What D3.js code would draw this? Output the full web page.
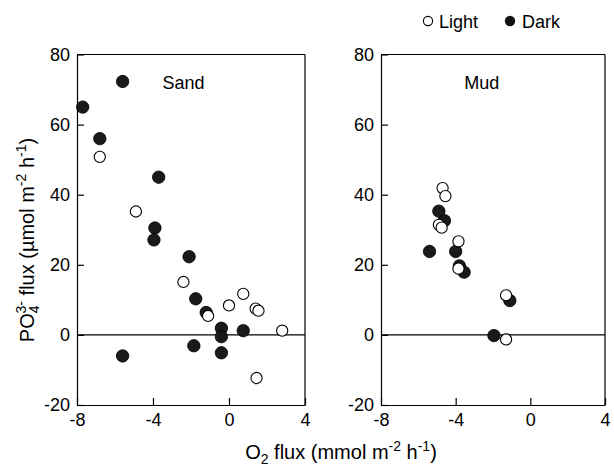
<!DOCTYPE html>
<html>
<head>
<meta charset="utf-8">
<script src="https://cdn.jsdelivr.net/npm/d3@7"></script>
<style>
  html, body { margin: 0; padding: 0; background: #fff; }
  svg { display: block; font-family: Arial, "Liberation Sans", sans-serif; }
</style>
</head>
<body>
<svg id="chart" width="614" height="467"></svg>
<script>
// ---- Data ----
const panels = ["Sand", "Mud"];
const xTicks = [-8, -4, 0, 4];
const yTicks = [-20, 0, 20, 40, 60, 80];

// Sand panel
const sandLightX = [-6.8, -4.9, -2.4, -1.1, 0.0, 0.75, 1.4, 1.55, 2.8, 1.45];
const sandLightY = [50.8, 35.2, 15.1, 5.4, 8.4, 11.7, 7.5, 6.9, 1.2, -12.3];
const sandDarkX = [-5.6, -7.7, -6.8, -3.7, -3.9, -3.95, -2.1, -1.75, -1.2, 0.75, -0.4, -0.4, -0.4, -1.85, -5.6];
const sandDarkY = [72.3, 65.0, 56.0, 45.0, 30.5, 27.1, 22.3, 10.3, 6.4, 1.2, 1.9, -0.5, -5.1, -3.1, -6.0];

// Mud panel
const mudLightX = [-4.7, -4.55, -4.9, -4.75, -3.85, -3.85, -1.3, -1.3];
const mudLightY = [41.9, 39.6, 31.4, 30.6, 26.7, 18.9, 11.3, -1.3];
const mudDarkX = [-4.9, -4.6, -5.4, -4.0, -3.8, -3.55, -1.1, -1.95];
const mudDarkY = [35.3, 32.6, 23.8, 23.8, 19.7, 17.9, 9.8, -0.2];

const seriesNames = ["Light", "Dark"];

// ---- Layout ----
const svg = d3.select("#chart");
const plotTop = 54.5, plotBottom = 405;
const panelX = [[77, 305], [381, 605]];
const y = d3.scaleLinear().domain([-20, 80]).range([plotBottom, plotTop]);
const fontSize = 18;
const titleSize = 20;
const supSize = 14;

const panelData = [
  { name: panels[0], light: sandLightX.map((v, i) => [v, sandLightY[i]]), dark: sandDarkX.map((v, i) => [v, sandDarkY[i]]) },
  { name: panels[1], light: mudLightX.map((v, i) => [v, mudLightY[i]]), dark: mudDarkX.map((v, i) => [v, mudDarkY[i]]) }
];

panelData.forEach((p, k) => {
  const x = d3.scaleLinear().domain([-8, 4]).range(panelX[k]);
  const g = svg.append("g");

  // zero line
  g.append("line")
    .attr("x1", x(-8)).attr("x2", x(4))
    .attr("y1", y(0)).attr("y2", y(0))
    .attr("stroke", "#000").attr("stroke-width", 1.2);

  // left axis
  const ya = g.append("g").attr("transform", `translate(${x(-8)},0)`)
    .call(d3.axisLeft(y).tickValues(yTicks).tickSizeInner(-7).tickSizeOuter(0).tickPadding(7));
  // bottom axis
  const xa = g.append("g").attr("transform", `translate(0,${y(-20)})`)
    .call(d3.axisBottom(x).tickValues(xTicks).tickSizeInner(-7).tickSizeOuter(0).tickPadding(8));
  [ya, xa].forEach(a => {
    a.select(".domain").attr("stroke", "#000").attr("stroke-width", 1.2);
    a.selectAll(".tick line").attr("stroke", "#000").attr("stroke-width", 1.2);
    a.selectAll("text").attr("font-size", fontSize).attr("fill", "#000")
      .attr("font-family", "Arial, 'Liberation Sans', sans-serif")
      .text(d => d < 0 ? "-" + Math.abs(d) : d);
  });

  // frame top & right
  g.append("line").attr("x1", x(-8)).attr("x2", x(4)).attr("y1", y(80)).attr("y2", y(80))
    .attr("stroke", "#000").attr("stroke-width", 1.2);
  g.append("line").attr("x1", x(4)).attr("x2", x(4)).attr("y1", y(80)).attr("y2", y(-20))
    .attr("stroke", "#000").attr("stroke-width", 1.2);

  // panel label
  g.append("text").attr("x", k === 0 ? x(-2.4) : x(-2.6)).attr("y", y(72) + 6.5)
    .attr("text-anchor", "middle").attr("font-size", fontSize).text(p.name);

  // points
  g.selectAll(".dark").data(p.dark).join("circle")
    .attr("cx", d => x(d[0])).attr("cy", d => y(d[1])).attr("r", 6.2)
    .attr("fill", "#1a1a1a").attr("stroke", "#000").attr("stroke-width", 0.8);
  g.selectAll(".light").data(p.light).join("circle")
    .attr("cx", d => x(d[0])).attr("cy", d => y(d[1])).attr("r", 5.6)
    .attr("fill", "#fff").attr("stroke", "#000").attr("stroke-width", 1.1);
});

// ---- Legend ----
const lg = svg.append("g");
lg.append("circle").attr("cx", 428).attr("cy", 21).attr("r", 4.6)
  .attr("fill", "#fff").attr("stroke", "#000").attr("stroke-width", 1.1);
lg.append("text").attr("x", 439).attr("y", 27.5).attr("font-size", fontSize).text(seriesNames[0]);
lg.append("circle").attr("cx", 510).attr("cy", 21).attr("r", 5.2).attr("fill", "#111");
lg.append("text").attr("x", 522).attr("y", 27.5).attr("font-size", fontSize).text(seriesNames[1]);

// ---- Axis titles ----
const xt = svg.append("text").attr("x", 341).attr("y", 459).attr("text-anchor", "middle")
  .attr("font-size", titleSize);
xt.append("tspan").text("O");
xt.append("tspan").attr("font-size", supSize).attr("dy", 5).text("2");
xt.append("tspan").attr("dy", -5).text(" flux (mmol m");
xt.append("tspan").attr("font-size", supSize).attr("dy", -8).text("-2");
xt.append("tspan").attr("dy", 8).text(" h");
xt.append("tspan").attr("font-size", supSize).attr("dy", -8).text("-1");
xt.append("tspan").attr("dy", 8).text(")");

const yt = svg.append("text").attr("transform", "translate(34,240) rotate(-90)")
  .attr("text-anchor", "middle").attr("font-size", titleSize);
yt.append("tspan").text("PO");
yt.append("tspan").attr("font-size", supSize).attr("dy", 5).text("4");
yt.append("tspan").attr("font-size", supSize).attr("dy", -13).attr("dx", -8).text("3-");
yt.append("tspan").attr("dy", 8).text(" flux (µmol m");
yt.append("tspan").attr("font-size", supSize).attr("dy", -8).text("-2");
yt.append("tspan").attr("dy", 8).text(" h");
yt.append("tspan").attr("font-size", supSize).attr("dy", -8).text("-1");
yt.append("tspan").attr("dy", 8).text(")");
</script>
</body>
</html>
